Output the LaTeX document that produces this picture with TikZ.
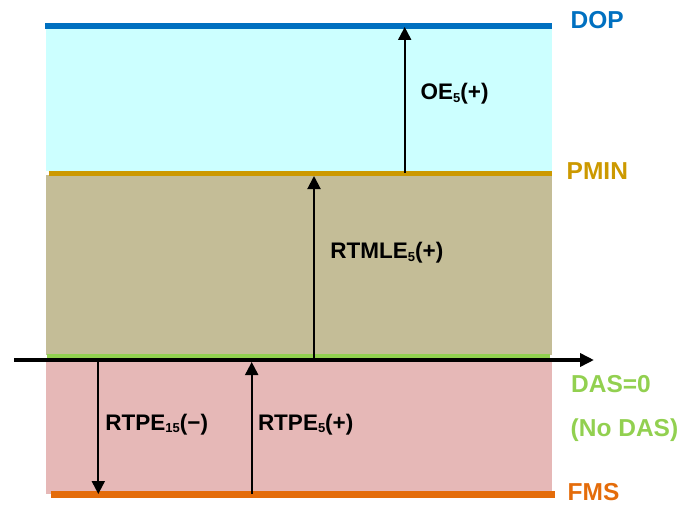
\documentclass[tikz,border=0pt]{standalone}
\usepackage{fontspec}
\setmainfont{Liberation Sans}
\usetikzlibrary{arrows.meta}
\definecolor{cyanband}{HTML}{CCFFFF}
\definecolor{tanband}{HTML}{C4BD97}
\definecolor{pinkband}{HTML}{E6B8B7}
\definecolor{dopblue}{HTML}{0070C0}
\definecolor{pmingold}{HTML}{CC9900}
\definecolor{dasgreen}{HTML}{92D050}
\definecolor{fmsorange}{HTML}{E46C0A}
\newcommand{\mysub}[1]{\raisebox{-2.7pt}{\fontsize{13}{13}\selectfont #1}}
\begin{document}
\begin{tikzpicture}[x=1pt,y=-1pt,
  band/.style={fill=#1,draw=none},
  vec/.style={line width=2pt,-{Triangle[length=13pt,width=13pt]}},
  inlbl/.style={anchor=base west,inner sep=0pt,font=\fontsize{22.5}{27}\selectfont\bfseries},
  sidelbl/.style={anchor=base west,inner sep=0pt,font=\fontsize{24.5}{29}\selectfont\bfseries,text=#1}]
\useasboundingbox (0,0) rectangle (684,505);
% bands
\fill[band=cyanband] (46,29) rectangle (552,171);
\fill[band=tanband] (46,175) rectangle (552,355);
\fill[band=pinkband] (46,360) rectangle (552,494);
% level lines
\coordinate (dopL) at (45,26);   \coordinate (dopR) at (552,26);
\coordinate (pminL) at (48.5,173.5); \coordinate (pminR) at (552,173.5);
\coordinate (dasL) at (46.5,356); \coordinate (dasR) at (550,356);
\coordinate (fmsL) at (50.5,494.5); \coordinate (fmsR) at (555,494.5);
\draw[dopblue,line width=6pt] (dopL) -- (dopR);
\draw[pmingold,line width=4.5pt] (pminL) -- (pminR);
\draw[dasgreen,line width=4pt] (dasL) -- (dasR);
\draw[fmsorange,line width=6.5pt] (fmsL) -- (fmsR);
% axis
\coordinate (axL) at (14,360); \coordinate (axR) at (594,360);
\draw[line width=4pt,-{Triangle[length=14pt,width=13pt]}] (axL) -- (axR);
% arrows
\coordinate (oeB) at (404.7,173); \coordinate (oeT) at (404.7,27);
\coordinate (rtmB) at (314,358); \coordinate (rtmT) at (314,176);
\coordinate (rp15T) at (98.3,360); \coordinate (rp15B) at (98.3,494);
\coordinate (rp5B) at (251.7,494); \coordinate (rp5T) at (251.7,362);
\draw[vec] (oeB) -- (oeT);
\draw[vec] (rtmB) -- (rtmT);
\draw[vec] (rp15T) -- (rp15B);
\draw[vec] (rp5B) -- (rp5T);
% inner labels
\node[inlbl] (oe) at (420.5,100) {OE\mysub{5}(+)};
\node[inlbl] (rtm) at (330.2,258.3) {RTMLE\mysub{5}(+)};
\node[inlbl] (rp15) at (105.2,430) {RTPE\mysub{15}(−)};
\node[inlbl] (rp5) at (257.8,430) {RTPE\mysub{5}(+)};
% side labels
\node[sidelbl=dopblue] (dop) at (570.5,29) {DOP};
\node[sidelbl=pmingold] (pmin) at (566.5,179) {PMIN};
\node[sidelbl=dasgreen] (das) at (571,392) {DAS=0};
\node[sidelbl=dasgreen] (nodas) at (570.5,436) {(No DAS)};
\node[sidelbl=fmsorange] (fms) at (567.5,500) {FMS};
\end{tikzpicture}
\end{document}
